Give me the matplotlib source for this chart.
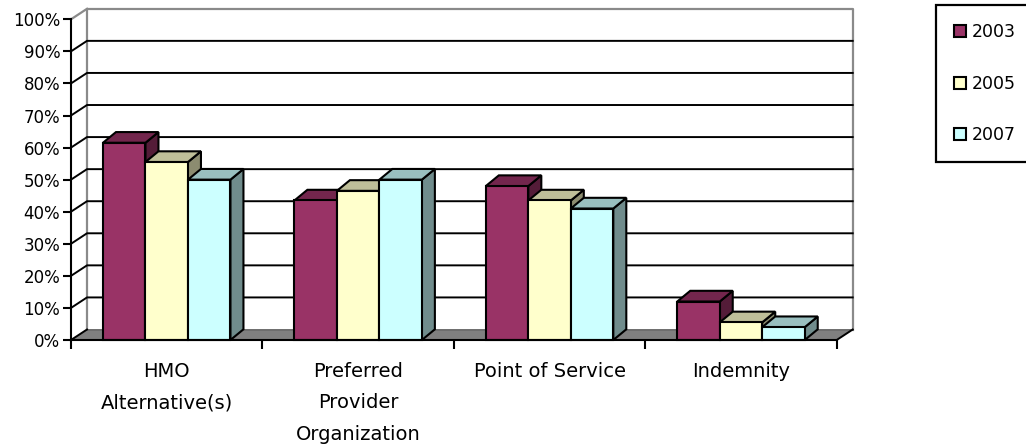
import matplotlib
matplotlib.use("Agg")
import matplotlib.pyplot as plt
from matplotlib.patches import Polygon, Patch
from matplotlib.transforms import blended_transform_factory

# Plan types and survey years
categories = ["HMO\nAlternative(s)", "Preferred\nProvider\nOrganization",
              "Point of Service", "Indemnity"]
years = ["2003", "2005", "2007"]

# Share of employers offering each plan type (%)
share_2003 = [61.5, 43.5, 48.0, 12.0]
share_2005 = [55.5, 46.5, 43.5, 5.5]
share_2007 = [50.0, 50.0, 41.0, 4.0]

y_ticks = [0, 10, 20, 30, 40, 50, 60, 70, 80, 90, 100]
y_tick_labels = [f"{t}%" for t in y_ticks]

front_colors = ["#993366", "#FFFFCC", "#CCFFFF"]


def shade(hex_color, k):
    r, g, b = (int(hex_color[i:i + 2], 16) for i in (1, 3, 5))
    return (r * k / 255, g * k / 255, b * k / 255)


plt.rcParams["font.family"] = ["DejaVu Sans"]

W, H = 1026, 445
fig = plt.figure(figsize=(W / 100, H / 100), dpi=100)
ax = fig.add_axes([71 / W, 1 - 340 / H, (836.7 - 71) / W, (340 - 19.3) / H])
n_cat = len(categories)
ax.set_xlim(0, n_cat)
ax.set_ylim(0, 100)
ax.patch.set_visible(False)
for s in ("top", "right"):
    ax.spines[s].set_visible(False)
for s in ("left", "bottom"):
    ax.spines[s].set_linewidth(1.5)
    ax.spines[s].set_zorder(6)


def px_to_data(dx_px, dy_px):
    sx = ax.bbox.width / n_cat
    sy = ax.bbox.height / 100
    return dx_px / sx, dy_px / sy


# Walls and floor of the 3-D box
wx, wy = px_to_data(16, 10.5)
wall_grey = "#8a8a8a"
ax.add_patch(Polygon([(0, 0), (n_cat, 0), (n_cat + wx, wy), (wx, wy)],
                     closed=True, facecolor="#808080", edgecolor="none",
                     clip_on=False, zorder=1))
ax.plot([wx, n_cat + wx], [wy, wy], color="#6e6e6e", lw=1.4, clip_on=False, zorder=1.5)
ax.plot([wx, wx, n_cat + wx, n_cat + wx], [wy, 100 + wy, 100 + wy, wy],
        color=wall_grey, lw=1.6, clip_on=False, zorder=1.2)
ax.plot([0, wx], [100, 100 + wy], color=wall_grey, lw=1.6, clip_on=False, zorder=1.2)
for t in y_ticks[1:-1]:
    ax.plot([0, wx, n_cat + wx], [t, t + wy, t + wy], color="black", lw=1.4,
            clip_on=False, zorder=1.3)
ax.plot([0, wx], [0, wy], color="black", lw=1.4, clip_on=False, zorder=1.5)
ax.plot([n_cat, n_cat + wx], [0, wy], color="black", lw=1.4, clip_on=False, zorder=1.5)

# Columns with top and side faces
series = [share_2003, share_2005, share_2007]
group_w = 0.666
bw = group_w / len(series)
bx, by = px_to_data(13, 10.7)
for i in range(n_cat):
    for j, vals in enumerate(series):
        v = vals[i]
        x0 = i + 0.5 - group_w / 2 + j * bw
        x1 = x0 + bw
        col = front_colors[j]
        ax.add_patch(Polygon([(x1, 0), (x1 + bx, by), (x1 + bx, v + by), (x1, v)],
                             closed=True, facecolor=shade(col, 0.55),
                             edgecolor="black", lw=1.5, joinstyle="miter",
                             clip_on=False, zorder=3))
        ax.add_patch(Polygon([(x0, v), (x0 + bx, v + by), (x1 + bx, v + by), (x1, v)],
                             closed=True, facecolor=shade(col, 0.75),
                             edgecolor="black", lw=1.5, joinstyle="miter",
                             clip_on=False, zorder=3))
        ax.bar(x0, v, width=bw, align="edge", color=col, edgecolor="black",
               linewidth=1.5, zorder=3, clip_on=False)

# Axes ticks and labels
ax.set_yticks(y_ticks, y_tick_labels)
ax.tick_params(axis="y", direction="out", length=5.8, width=1.5, pad=2,
               labelsize=12, colors="black")
ax.set_xticks(range(n_cat + 1), [""] * (n_cat + 1))
ax.tick_params(axis="x", direction="out", length=6.5, width=1.5)

tr = blended_transform_factory(ax.transData, ax.transAxes)
for i, name in enumerate(categories):
    ax.text(i + 0.5, -0.068, name, transform=tr, ha="center", va="top",
            multialignment="center", fontsize=14, linespacing=1.84)

# Legend (its right edge runs past the figure border)
handles = [Patch(facecolor=c, edgecolor="black", linewidth=1.5) for c in front_colors]
leg = fig.legend(handles, years, loc="upper left",
                 bbox_to_anchor=(936 / W, 0, 200 / W, 1 - 5 / H),
                 bbox_transform=fig.transFigure, mode="expand",
                 frameon=True, fancybox=False, edgecolor="black", framealpha=1,
                 fontsize=12.5, handlelength=0.69, handleheight=0.69,
                 handletextpad=0.3, labelspacing=1.93, borderpad=1.05,
                 borderaxespad=0)
leg.get_frame().set_linewidth(1.6)

fig.savefig("out.png", dpi=100)
